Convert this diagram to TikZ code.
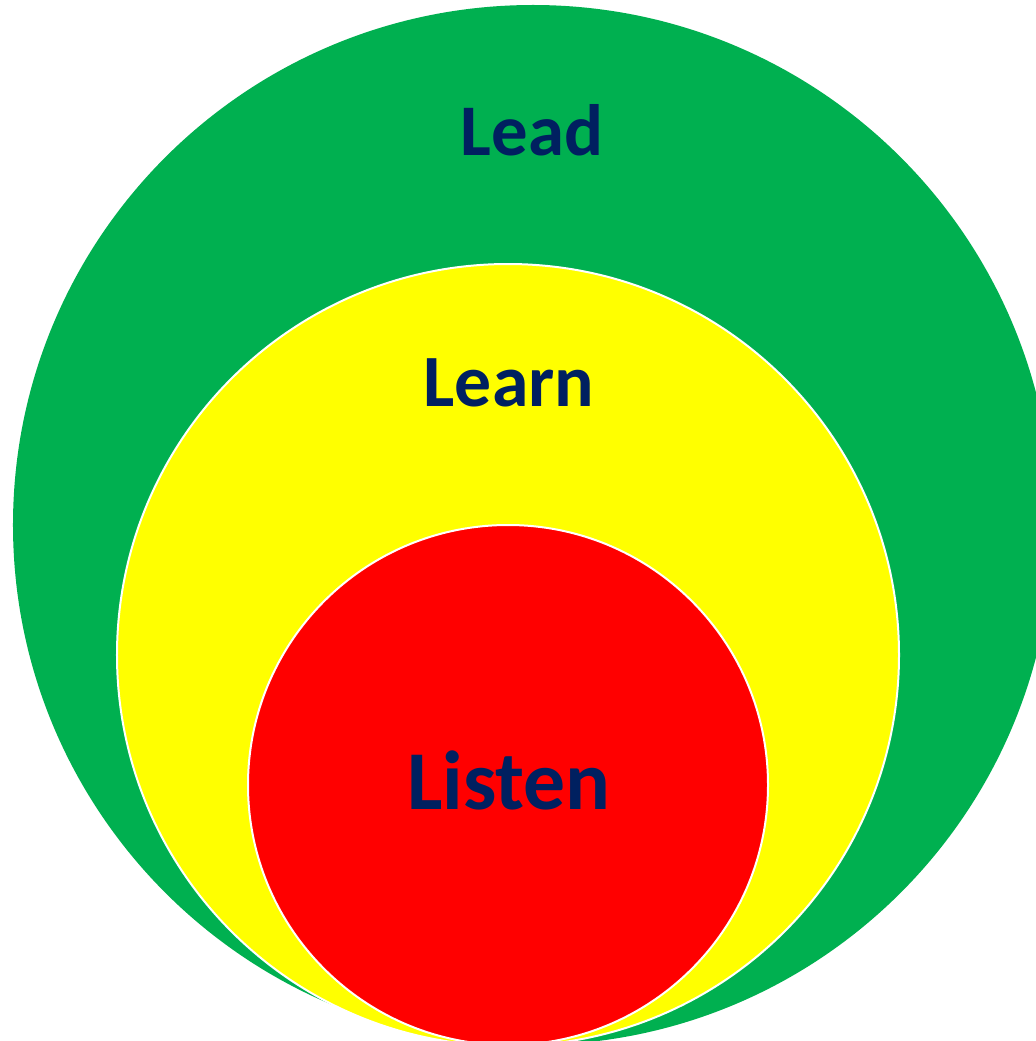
\documentclass[tikz,border=0pt]{standalone}
\usepackage{fontspec}
\setmainfont{Carlito}
\definecolor{leadgreen}{HTML}{00B050}
\definecolor{learnyellow}{HTML}{FFFF00}
\definecolor{listenred}{HTML}{FF0000}
\definecolor{navytext}{HTML}{002060}
\begin{document}
\begin{tikzpicture}[x=1bp,y=-1bp,
  ring/.style={draw=white,line width=2bp},
  word/.style={text=navytext,font=\bfseries,anchor=base,inner sep=0pt}]
\useasboundingbox (0,0) rectangle (1036,1041);
\begin{scope}
\clip (0,0) rectangle (1036,1041);
% three nested circles, outer to inner
\fill[leadgreen] (533,525) circle[radius=520bp];
\filldraw[learnyellow,ring] (508,655) circle[radius=391bp];
\filldraw[listenred,ring] (508,785) circle[radius=260bp];
\end{scope}
\node[word,font=\bfseries\fontsize{73}{80}\selectfont] (lead) at (532,155) {Lead};
\node[word,font=\bfseries\fontsize{74}{80}\selectfont] (learn) at (509,406) {Learn};
\node[word,font=\bfseries\fontsize{84}{90}\selectfont] (listen) at (509,809) {Listen};
\end{tikzpicture}
\end{document}
